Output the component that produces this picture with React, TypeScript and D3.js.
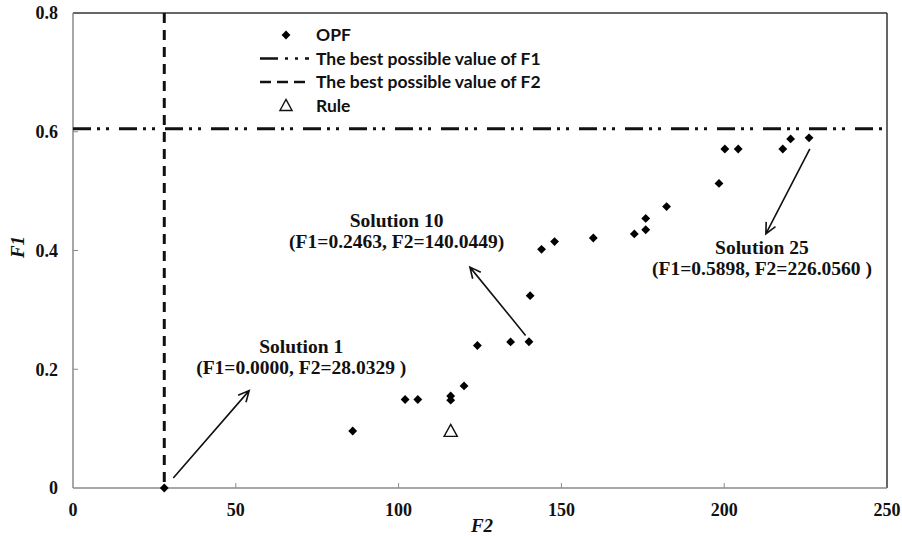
import React from "react";
import * as d3 from "d3";

const opfF2 = [28.03, 85.9, 102.0, 105.9, 116.0, 116.0, 120.1, 124.2, 134.4, 140.04, 140.4, 143.9, 147.9, 159.8, 172.4, 175.9, 175.9, 182.3, 198.4, 200.2, 204.3, 218.0, 220.4, 226.06];
const opfF1 = [0.0, 0.096, 0.149, 0.149, 0.155, 0.148, 0.172, 0.24, 0.246, 0.2463, 0.324, 0.402, 0.415, 0.421, 0.428, 0.435, 0.454, 0.474, 0.513, 0.571, 0.571, 0.571, 0.588, 0.5898];
const ruleF2 = [116.0];
const ruleF1 = [0.096];
const bestF1 = 0.605;
const bestF2 = 28.0329;
const xTicks = [0, 50, 100, 150, 200, 250];
const yTicks = [0, 0.2, 0.4, 0.6, 0.8];
const yTickLabels = ["0", "0.2", "0.4", "0.6", "0.8"];
const legendLabels = ["OPF", "The best possible value of F1", "The best possible value of F2", "Rule"];
const annTitles = ["Solution 1", "Solution 10", "Solution 25"];
const annValues = ["(F1=0.0000, F2=28.0329 )", "(F1=0.2463, F2=140.0449)", "(F1=0.5898, F2=226.0560 )"];
const annF2 = [70.1, 99.4, 211.6];
const annF1 = [0.228, 0.439, 0.394];
const arrowFrom: [number, number][] = [[30.8, 0.017], [139.0, 0.257], [226.3, 0.571]];
const arrowTo: [number, number][] = [[54.1, 0.164], [121.9, 0.372], [212.8, 0.428]];

const W = 902, H = 536;
const L = 73, R = 887, T = 13, B = 488;

export default function App() {
  const x = d3.scaleLinear().domain([0, 250]).range([L, R]);
  const y = d3.scaleLinear().domain([0, 0.8]).range([B, T]);
  const serif = "'Liberation Serif', 'Times New Roman', serif";
  const sans = "Lato, 'Open Sans', sans-serif";
  const diamond = d3.symbol().type(d3.symbolDiamond2).size(50)() as string;
  const tri = (cx: number, cy: number, s: number) =>
    `M${cx},${cy - s * 0.55}L${cx + s * 0.55},${cy + s * 0.45}L${cx - s * 0.55},${cy + s * 0.45}Z`;

  const arrowPath = (f: [number, number], t: [number, number]) => {
    const x1 = x(f[0]), y1 = y(f[1]), x2 = x(t[0]), y2 = y(t[1]);
    const a = Math.atan2(y2 - y1, x2 - x1);
    const len = 12, sp = 0.45;
    const p1 = [x2 - len * Math.cos(a - sp), y2 - len * Math.sin(a - sp)];
    const p2 = [x2 - len * Math.cos(a + sp), y2 - len * Math.sin(a + sp)];
    return `M${x1},${y1}L${x2},${y2}M${p1[0]},${p1[1]}L${x2},${y2}L${p2[0]},${p2[1]}`;
  };

  const legY = [35, 58.5, 82, 105.5];
  return (
    <svg width={W} height={H} style={{ position: "absolute", left: 0, top: 0, background: "#fff" }}>
      {/* plot border */}
      <line x1={L} y1={T} x2={R} y2={T} stroke="#333" strokeWidth={1.5} />
      <line x1={R} y1={T} x2={R} y2={B} stroke="#333" strokeWidth={1.5} />
      <line x1={L} y1={T} x2={L} y2={B} stroke="#8a8a8a" strokeWidth={1.5} />
      <line x1={L} y1={B} x2={R} y2={B} stroke="#8a8a8a" strokeWidth={1.5} />
      {xTicks.map((t) => (
        <g key={"xt" + t}>
          {t > 0 && t < 250 && <line x1={x(t)} x2={x(t)} y1={B} y2={B - 5} stroke="#8a8a8a" strokeWidth={1} />}
          <text x={x(t)} y={516} textAnchor="middle" fontFamily={serif} fontWeight="bold" fontSize={18} fill="#111">{t}</text>
        </g>
      ))}
      {yTicks.map((t, i) => (
        <g key={"yt" + t}>
          {t > 0 && t < 0.8 && <line x1={L} x2={L + 5} y1={y(t)} y2={y(t)} stroke="#8a8a8a" strokeWidth={1} />}
          <text x={58} y={y(t)} dy="0.35em" textAnchor="end" fontFamily={serif} fontWeight="bold" fontSize={18} fill="#111">{yTickLabels[i]}</text>
        </g>
      ))}
      <text x={482} y={532} textAnchor="middle" fontFamily={serif} fontWeight="bold" fontStyle="italic" fontSize={19} fill="#111">F2</text>
      <text transform={`translate(24,247) rotate(-90)`} textAnchor="middle" fontFamily={serif} fontWeight="bold" fontStyle="italic" fontSize={19} fill="#111">F1</text>

      {/* reference lines */}
      <line x1={L} x2={R} y1={y(bestF1)} y2={y(bestF1)} stroke="#111" strokeWidth={3} strokeDasharray="18 6 3 6 3 10" />
      <line x1={x(bestF2)} x2={x(bestF2)} y1={T} y2={B} stroke="#111" strokeWidth={3} strokeDasharray="10 7" />

      {/* points */}
      {opfF2.map((v, i) => (
        <path key={"p" + i} d={diamond} transform={`translate(${x(v)},${y(opfF1[i])})`} fill="#000" />
      ))}
      {ruleF2.map((v, i) => (
        <path key={"r" + i} d={tri(x(v), y(ruleF1[i]), 12)} fill="none" stroke="#111" strokeWidth={1.4} />
      ))}

      {/* arrows */}
      {arrowFrom.map((f, i) => (
        <path key={"a" + i} d={arrowPath(f, arrowTo[i])} fill="none" stroke="#111" strokeWidth={1.6} />
      ))}
      {/* annotations */}
      {annTitles.map((t, i) => (
        <g key={"an" + i} fontFamily={serif} fontWeight="bold" fontSize={19.5} fill="#111" textAnchor="middle">
          <text x={x(annF2[i])} y={y(annF1[i])}>{t}</text>
          <text x={x(annF2[i])} y={y(annF1[i]) + 21}>{annValues[i]}</text>
        </g>
      ))}

      {/* legend */}
      <path d={diamond} transform={`translate(286,${legY[0]})`} fill="#000" />
      <line x1={260} x2={312} y1={legY[1]} y2={legY[1]} stroke="#111" strokeWidth={2.5} strokeDasharray="18 7 3 7 3 7 4 20" />
      <line x1={260} x2={305} y1={legY[2]} y2={legY[2]} stroke="#111" strokeWidth={2.5} strokeDasharray="11 6" />
      <path d={tri(286, legY[3], 11)} fill="none" stroke="#111" strokeWidth={1.4} />
      {legendLabels.map((l, i) => (
        <text key={"l" + i} x={316} y={legY[i]} dy="0.35em" fontFamily={sans} fontWeight="bold" fontSize={17.5} fill="#111">{l}</text>
      ))}
    </svg>
  );
}
